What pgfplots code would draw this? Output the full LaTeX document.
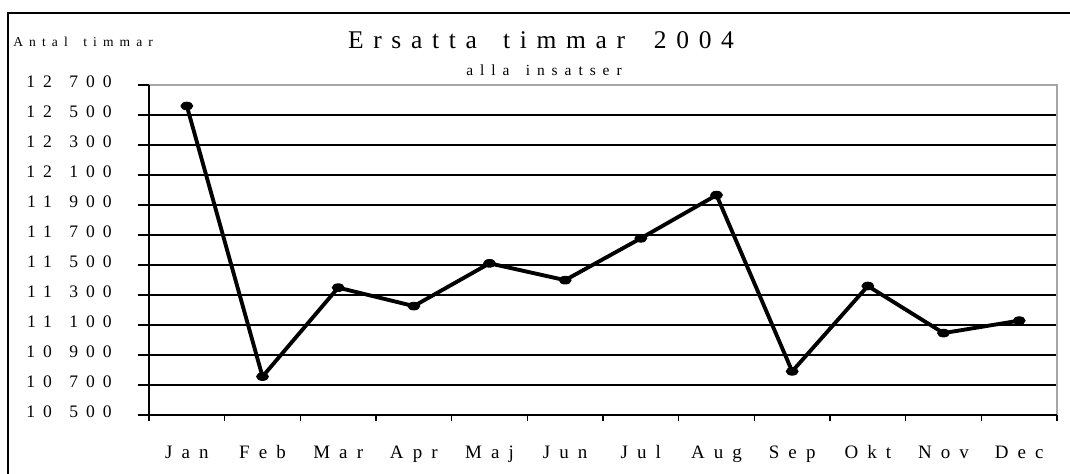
\documentclass[border=0pt]{standalone}
\usepackage{fontspec}
\setmainfont{Liberation Serif}
\newfontfamily\spf[LetterSpace=45]{Liberation Serif}
\newfontfamily\spx[LetterSpace=48]{Liberation Serif}
\newfontfamily\spt[LetterSpace=38]{Liberation Serif}
\usepackage{pgfplots}
\pgfplotsset{compat=1.18}
\begin{document}
\begin{tikzpicture}
\useasboundingbox (0,0) rectangle (21.4,9.48);
\draw[line width=0.9pt] (0.16,-1) -- (0.16,9.22) -- (23,9.22);
\node[anchor=base] at (10.82,8.50) {\fontsize{14.5}{16}\spt Ersatta\hspace{0.4em} timmar\hspace{0.5em} 2004};
\node[anchor=base] at (10.88,7.96) {\fontsize{8.8}{10}\spf alla\hspace{0.35em} insatser};
\node[anchor=base west, inner sep=0pt] at (0.26,8.55) {\fontsize{7.7}{9}\spf Antal\hspace{0.45em} timmar};
\begin{axis}[
  at={(2.98cm,1.18cm)}, anchor=south west,
  scale only axis, width=18.16cm, height=6.6cm,
  xmin=0, xmax=12, ymin=10500, ymax=12700,
  scaled y ticks=false,
  axis line style={draw=none},
  tick align=outside,
  xtick pos=bottom, ytick pos=left,
  xtick={0.5,1.5,...,11.5},
  xticklabels={Jan,Feb,Mar,Apr,Maj,Jun,Jul,Aug,Sep,Okt,Nov,Dec},
  minor xtick={0,1,...,12},
  major x tick style={draw=none},
  minor x tick style={black, line width=0.6pt},
  minor tick length=0.12cm,
  ytick={10500,10700,...,12700},
  yticklabels={{10\kern 1em 500},{10\kern 1em 700},{10\kern 1em 900},{11\kern 1em 100},{11\kern 1em 300},{11\kern 1em 500},{11\kern 1em 700},{11\kern 1em 900},{12\kern 1em 100},{12\kern 1em 300},{12\kern 1em 500},{12\kern 1em 700}},
  major tick length=0.22cm,
  y tick style={black, line width=0.6pt},
  ymajorgrids, grid style={black, line width=0.6pt},
  xticklabel style={font=\fontsize{10.8}{12}\spx, anchor=base, yshift=-0.66cm},
  yticklabel style={font=\fontsize{10}{12}\spf, anchor=base east, inner sep=0pt, xshift=-0.52cm, yshift=-0.06cm},
  clip=false,
]
\addplot[black, line width=2.2pt, mark=*, mark size=2.6pt, mark options={xscale=1.3, yscale=0.85, line width=0.5pt}]
 coordinates {(0.5,12560) (1.5,10756) (2.5,11349) (3.5,11226) (4.5,11511) (5.5,11399) (6.5,11678) (7.5,11966) (8.5,10791) (9.5,11360) (10.5,11046) (11.5,11129)};
\draw[gray!70, line width=0.8pt] (rel axis cs:0,1) -- (rel axis cs:1,1) -- (rel axis cs:1,0);
\draw[black, line width=0.7pt] (rel axis cs:0,1) -- (rel axis cs:0,0) -- (rel axis cs:1,0);
\end{axis}
\end{tikzpicture}
\end{document}
